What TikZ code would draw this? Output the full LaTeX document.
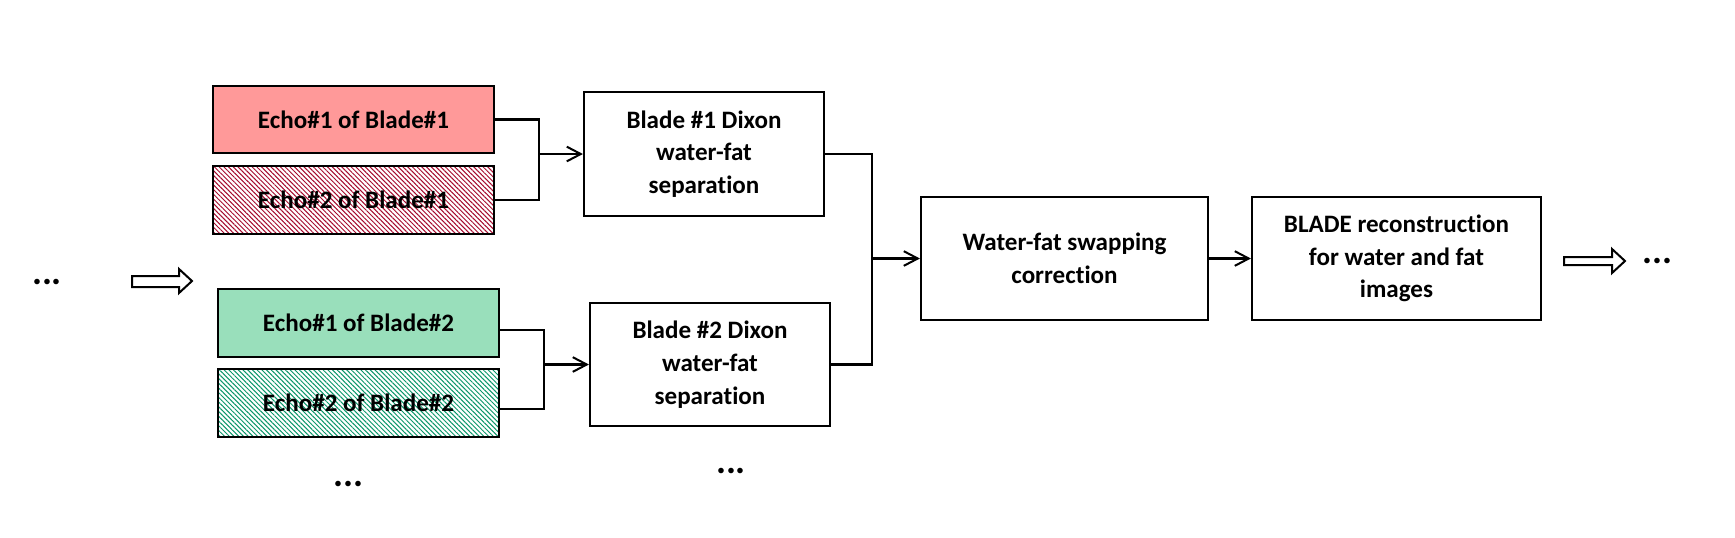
\documentclass[tikz,border=0pt]{standalone}
\usepackage{fontspec}
\setmainfont{Carlito}[Ligatures={NoCommon,NoRequired,NoContextual}]
\usetikzlibrary{arrows.meta,patterns.meta}
\definecolor{pinkfill}{RGB}{255,153,153}
\definecolor{greenfill}{RGB}{153,223,187}
\definecolor{hatchred}{RGB}{165,10,45}
\definecolor{hatchgreen}{RGB}{10,150,105}
\tikzset{
  box/.style={draw=black, line width=1.6pt, align=center, inner sep=0pt,
    font=\bfseries\fontsize{18.8}{24.5}\selectfont},
  conn/.style={draw=black, line width=1.6pt},
  arr/.style={conn, -{Straight Barb[length=10.5pt,width=11pt,line width=1.5pt]}},
  hollow/.style={draw=black, line width=1.5pt, fill=white, line join=miter},
  dots/.style={anchor=base, inner sep=0pt, font=\bfseries\fontsize{28}{30}\selectfont},
  redhatch/.style={pattern={Lines[angle=-45,distance=2.5pt,line width=0.75pt]}, pattern color=hatchred},
  greenhatch/.style={pattern={Lines[angle=-45,distance=2.5pt,line width=0.75pt]}, pattern color=hatchgreen}
}
\begin{document}
\begin{tikzpicture}[x=0.75pt,y=-0.75pt]
\useasboundingbox (0,0) rectangle (1735,537);
% echo boxes
\node[box, fill=pinkfill, minimum width=210.75pt, minimum height=50.25pt] (e11) at (353.5,119.5) {Echo\#1 of Blade\#1};
\node[box, redhatch, minimum width=210.75pt, minimum height=51pt] (e21) at (353.5,200) {Echo\#2 of Blade\#1};
\node[box, fill=greenfill, minimum width=210.75pt, minimum height=51pt] (e12) at (358.5,323) {Echo\#1 of Blade\#2};
\node[box, greenhatch, minimum width=210.75pt, minimum height=51pt] (e22) at (358.5,403) {Echo\#2 of Blade\#2};
% process boxes
\node[box, minimum width=180pt, minimum height=93pt] (b1) at (704,154) {Blade \#1 Dixon\\water-fat\\separation};
\node[box, minimum width=180pt, minimum height=92.25pt] (b2) at (710,364.5) {Blade \#2 Dixon\\water-fat\\separation};
\node[box, minimum width=215.25pt, minimum height=92.25pt] (sw) at (1064.5,258.5) {Water-fat swapping\\correction};
\node[box, minimum width=216.75pt, minimum height=92.25pt] (bl) at (1396.5,258.5) {BLADE reconstruction\\for water and fat\\images};
% junction coordinates
\coordinate (j1) at (539,154);
\coordinate (j2) at (544,364.5);
\coordinate (j3) at (872,258.5);
% connectors
\draw[conn] (e11.east) -| (j1) |- (e21.east);
\draw[arr] (j1) -- (b1.west);
\draw[conn] ([yshift=-5.25pt]e12.east) -| (j2) |- ([yshift=-4.5pt]e22.east);
\draw[arr] (j2) -- (b2.west);
\draw[conn] (b1.east) -| (j3) |- (b2.east);
\draw[arr] (j3) -- (sw.west);
\draw[arr] (sw.east) -- (bl.west);
% hollow arrows
\draw[hollow] (132,276) -- (179,276) -- (179,269) -- (192,281) -- (179,293) -- (179,287) -- (132,287) -- cycle;
\draw[hollow] (1564,257) -- (1612,257) -- (1612,249) -- (1625,261) -- (1612,273) -- (1612,265) -- (1564,265) -- cycle;
% ellipses
\node[dots] (d1) at (47,284.5) {...};
\node[dots] (d2) at (1657.5,263.5) {...};
\node[dots] (d3) at (348.5,486.5) {...};
\node[dots] (d4) at (731,473.5) {...};
\end{tikzpicture}
\end{document}
